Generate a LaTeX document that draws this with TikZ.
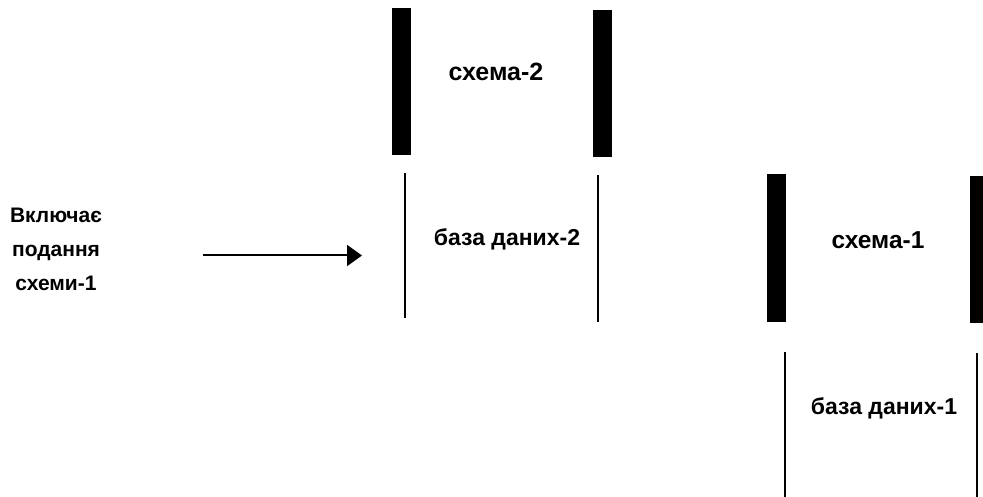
\documentclass[tikz,border=0pt]{standalone}
\usepackage{fontspec}
\setmainfont{Liberation Sans}
\usetikzlibrary{arrows.meta}
\begin{document}
\begin{tikzpicture}[x=1pt,y=-1pt,
  thickbar/.style={fill=black,draw=none},
  thinbar/.style={line width=2.3pt,black},
  lbl/.style={font=\bfseries\fontsize{#1}{34}\selectfont,inner sep=0pt,align=center},
  lbl/.default=22,
  link/.style={line width=2pt,-{Triangle[length=15pt,width=21pt]}}]
\useasboundingbox[fill=white] (0,0) rectangle (983,497);

% schema-2 (top)
\fill[thickbar] (392,8) rectangle (411,155);
\fill[thickbar] (593,10) rectangle (612,157);
\node[lbl=25] (s2) at (496,72) {схема-2};

% database-2
\draw[thinbar] (405,173) -- (405,318);
\draw[thinbar] (598,175) -- (598,322);
\node[lbl=23] (d2) at (507,239) {база даних-2};

% schema-1
\fill[thickbar] (767,174) rectangle (786,322);
\fill[thickbar] (970,176) rectangle (989,323);
\node[lbl=24.5] (s1) at (878,240) {схема-1};

% database-1
\draw[thinbar] (785,352) -- (785,500);
\draw[thinbar] (977,353) -- (977,500);
\node[lbl=23] (d1) at (884,408) {база даних-1};

% caption and arrow
\node[lbl=21] (cap) at (56,249) {Включає\\подання\\схеми-1};
\coordinate (a0) at (203,255.5);
\coordinate (a1) at (362,255.5);
\draw[link] (a0) -- (a1);
\end{tikzpicture}
\end{document}
